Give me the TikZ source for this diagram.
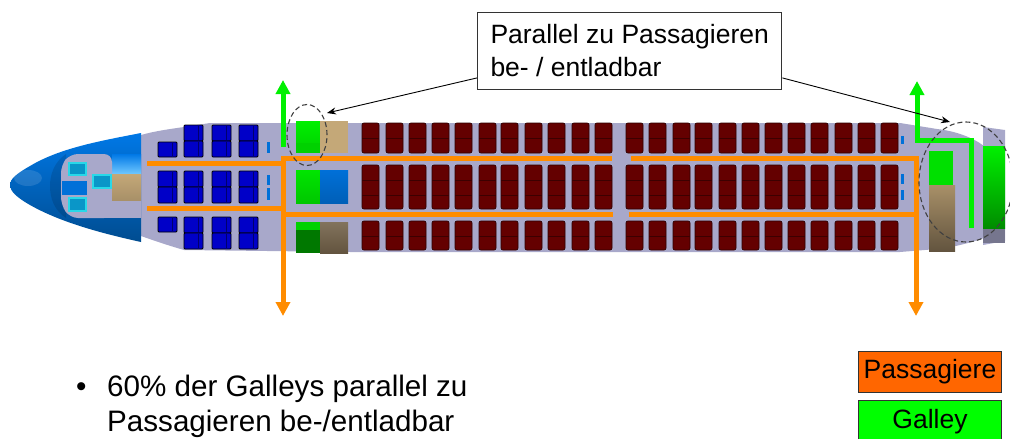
\documentclass[tikz,border=0pt]{standalone}
\usepackage{fontspec}
\setmainfont{Liberation Sans}
\usetikzlibrary{arrows.meta,shapes.geometric}

\definecolor{cabin}{HTML}{A8A8CA}
\definecolor{aisle}{HTML}{FF8C00}
\definecolor{wayout}{HTML}{00F000}
\definecolor{redseat}{HTML}{640000}
\definecolor{blueseat}{HTML}{0000C8}
\definecolor{tan}{HTML}{C4A878}
\definecolor{tanlow}{HTML}{A89068}
\definecolor{brown}{HTML}{74634A}
\definecolor{midblue}{HTML}{0070D8}
\definecolor{passorange}{HTML}{FF6600}
\definecolor{nosetop}{HTML}{0078E6}
\definecolor{nosemid}{HTML}{1E8CF0}
\definecolor{noselow}{HTML}{004C90}
\definecolor{noselight}{HTML}{70C8FF}
\definecolor{cockpitfill}{HTML}{0A96C8}
\definecolor{cockpitedge}{HTML}{28D8E8}

\tikzset{
  redblock/.style={fill=redseat,draw=black!55!redseat,line width=.7pt,rounded corners=2pt},
  redline/.style={draw=black!40!redseat,line width=.8pt},
  blueblock/.style={fill=blueseat,draw=black,line width=.9pt,rounded corners=1pt},
  blueline/.style={draw=blueseat!55!black,line width=.9pt},
  cyanblock/.style={fill=cockpitfill,draw=cockpitedge,line width=1.2pt},
  marker/.style={fill=midblue},
  aisleline/.style={draw=aisle,line width=5pt},
  exitorange/.style={aisleline,-{Triangle[width=14pt,length=14pt]}},
  exitgreen/.style={draw=wayout,line width=5pt,-{Triangle[width=14pt,length=14pt]}},
  leader/.style={draw=black,line width=.9pt,-{Stealth[length=9pt,width=7pt]}},
  ring/.style={ellipse,draw=black!75,line width=1.1pt,dash pattern=on 5pt off 3pt,inner sep=0pt},
  legendbox/.style={draw=black!80,line width=1pt,minimum width=143pt,inner sep=0pt},
  bigtext/.style={font=\fontsize{26.5}{33}\selectfont}
}

\begin{document}
\begin{tikzpicture}[x=1pt,y=-1pt]
  \useasboundingbox (0,0) rectangle (1010,439);
  \clip (0,0) rectangle (1010,439);

  % fuselage
  \fill[cabin] (141,135) .. controls (155,131) and (170,129) .. (184,127) -- (210,123) -- (900,123)
    -- (937,129) .. controls (955,131) and (972,137) .. (984,146) -- (984,238)
    .. controls (970,243) and (950,248) .. (937,249) -- (900,252) -- (350,252) -- (184,250)
    .. controls (170,246) and (155,241) .. (141,236) -- cycle;

  % nose
  \shade[top color=nosetop,middle color=nosemid,bottom color=noselow]
    (141,133) .. controls (100,141) and (60,148) .. (30,166) .. controls (16,174) and (10,179) .. (10,185)
    .. controls (10,191) and (16,197) .. (30,205) .. controls (60,222) and (100,233) .. (141,242) -- cycle;
  \fill[white,opacity=.12] (28,178) ellipse (14pt and 8pt);
  \fill[black,opacity=.12] (66,154) .. controls (54,162) and (50,175) .. (50,186)
    .. controls (50,198) and (54,210) .. (66,218) -- cycle;
  \shade[top color=nosetop,bottom color=noselight] (112,154) rectangle (141,174);
  \fill[cabin,rounded corners=8pt] (70,154) -- (112,154) -- (112,218) -- (70,218) -- (61,205) -- (61,165) -- cycle;
  \fill[cabin] (100,174) rectangle (141,218);
  \shade[top color=tan,bottom color=tanlow] (112,174) rectangle (141,200);
  \fill[midblue] (62,181) rectangle (87,195);
  \draw[cyanblock] (69,163) rectangle (86,175);
  \draw[cyanblock] (93,175) rectangle (111,188);
  \draw[cyanblock] (69,198) rectangle (86,211);

  % business seats
  \foreach \x in {184,212,239} {
    \foreach \y in {125,141,217,233} {
      \draw[blueblock] (\x,\y) rectangle +(19,16);
      \draw[blueline] (\x+14.5,\y+1) -- (\x+14.5,\y+15);
    }
  }
  \foreach \x in {158,184,212,239} {
    \foreach \y in {171,187} {
      \draw[blueblock] (\x,\y) rectangle +(19,16);
      \draw[blueline] (\x+14.5,\y+1) -- (\x+14.5,\y+15);
    }
  }
  \foreach \y in {142,217} {
    \draw[blueblock] (158,\y) rectangle +(19,15);
    \draw[blueline] (172.5,\y+1) -- (172.5,\y+14);
  }

  % economy seats
  \foreach \x in {362,386,409,432,455,479,501,525,548,572,595,626,649,673,695,719,742,765,788,811,835,858,881} {
    \draw[redblock] (\x,123) rectangle +(17,30);
    \draw[redline] (\x,138) -- +(17,0);
    \draw[redblock] (\x,165) rectangle +(17,44);
    \draw[redline] (\x,180) -- +(17,0);
    \draw[redline] (\x,195) -- +(17,0);
    \draw[redblock] (\x,221) rectangle +(17,29);
    \draw[redline] (\x,236) -- +(17,0);
  }

  % small markers
  \fill[marker] (267,142) rectangle (270,153);
  \fill[marker] (267,175) rectangle (270,185);
  \fill[marker] (267,188) rectangle (270,200);
  \fill[marker] (901,136) rectangle (904,144);
  \fill[marker] (901,174) rectangle (904,184);
  \fill[marker] (901,190) rectangle (904,200);

  % front galleys
  \shade[top color=wayout,bottom color=green!85!black] (296,121) rectangle (320,143);
  \fill[green!82!black] (296,143) rectangle (320,153);
  \fill[tan] (320,121) rectangle (348,153);
  \shade[top color=green!90!black,bottom color=green!78!black] (296,170) rectangle (320,203);
  \shade[top color=midblue,bottom color=midblue!85!black] (320,170) rectangle (348,203);
  \fill[green!82!black] (296,222) rectangle (320,230);
  \fill[green!47!black] (296,230) rectangle (320,253);
  \shade[top color=brown!90!white,bottom color=brown!85!black] (320,222) rectangle (348,253);

  % rear galleys
  \fill[green!88!black] (929,151) rectangle (953,185);
  \shade[top color=tanlow,bottom color=brown!85!black] (929,185) rectangle (955,251);
  \fill[cabin] (983,127) -- (1005,130) -- (1005,241) -- (983,245) -- cycle;
  \fill[cabin!70!black] (983,228) rectangle (1005,243);
  \shade[top color=wayout,bottom color=green!55!black] (983,146) rectangle (1005,228);

  % aisles
  \draw[aisleline] (147,163) -- (283,163);
  \draw[aisleline] (147,208) -- (283,208);
  \draw[aisleline] (283,158) -- (612,158);
  \draw[aisleline] (631,158) -- (918,158);
  \draw[aisleline] (283,214) -- (613,214);
  \draw[aisleline] (629,214) -- (918,214);
  \draw[exitorange] (283,156) -- (283,316);
  \draw[exitorange] (916,156) -- (916,316);

  % ways out for the galleys
  \draw[exitgreen] (283,147) -- (283,80);
  \draw[exitgreen] (971,228) -- (971,140) -- (917,140) -- (917,81);

  \node[ring,minimum width=40pt,minimum height=61pt] (frontring) at (307,135) {};
  \node[ring,minimum width=94pt,minimum height=120pt] (rearring) at (966,182) {};

  \node[draw=black!80,fill=white,line width=1pt,bigtext,align=left,anchor=north west,
        minimum width=297pt,minimum height=77pt,inner xsep=13pt,inner ysep=0pt] (callout) at (477,12)
    {Parallel zu Passagieren\\be- / entladbar};
  \coordinate (fronttip) at (327,113);
  \coordinate (reartip) at (950,122);
  \draw[leader] (callout.190.9) -- (fronttip);
  \draw[leader] (callout.-10.5) -- (reartip);

  % legend
  \node[legendbox,fill=passorange,minimum height=41pt,bigtext] (passlegend) at (930,372) {\raisebox{-1.5pt}{Passagiere}};
  \node[legendbox,fill=green,minimum height=44pt,bigtext] (galleylegend) at (930,422) {\raisebox{-1.5pt}{Galley}};

  % bullet text
  \node[font=\fontsize{29.6}{35}\selectfont,anchor=base west,inner sep=0pt] (bulletdot) at (76,396) {•};
  \node[font=\fontsize{29.6}{35}\selectfont,align=left,anchor=north west,inner sep=0pt] (bullettext) at (107,374.5)
    {60\% der Galleys parallel zu\\Passagieren be-/entladbar};
\end{tikzpicture}
\end{document}
